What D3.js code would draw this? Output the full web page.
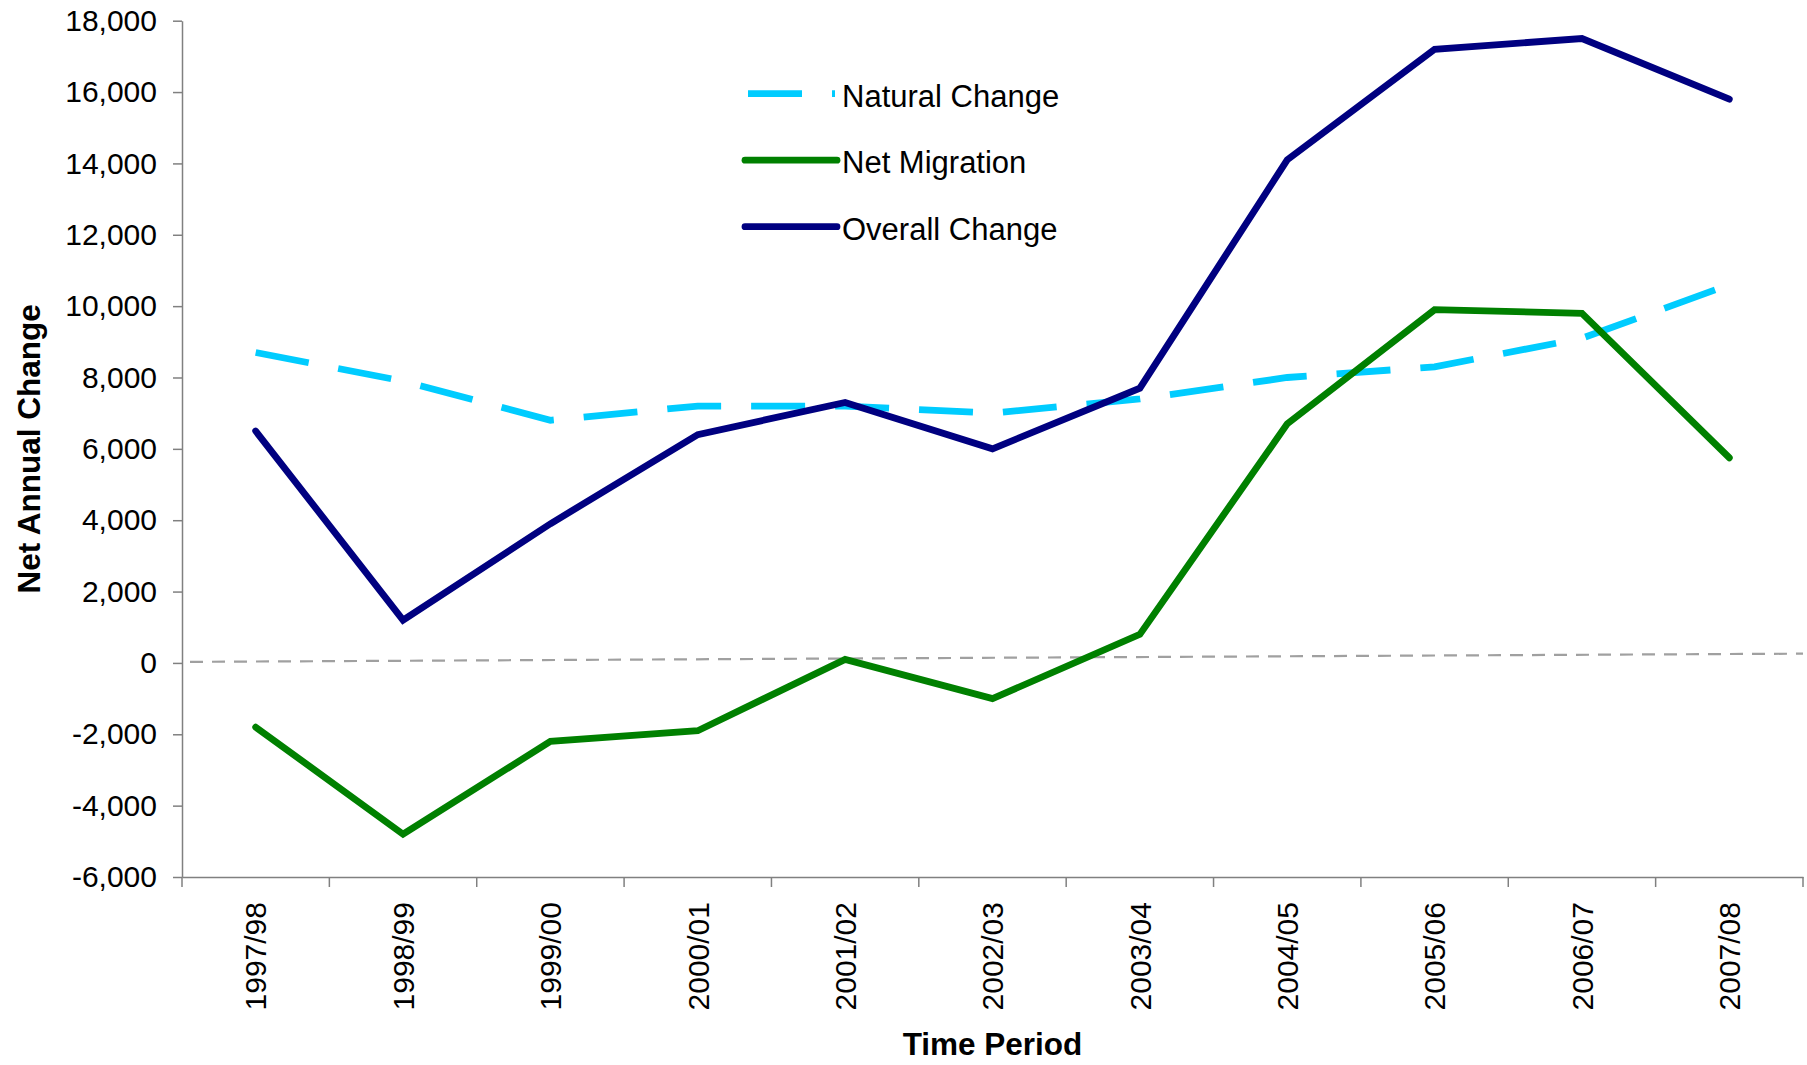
<!DOCTYPE html>
<html>
<head>
<meta charset="utf-8">
<script src="https://cdn.jsdelivr.net/npm/d3@7"></script>
<style>
  html, body { margin: 0; padding: 0; background: #fff; }
  svg text { font-family: "Liberation Sans", Arial, sans-serif; fill: #000; }
</style>
</head>
<body>
<svg id="chart" width="1807" height="1065"></svg>
<script>
const categories = ["1997/98","1998/99","1999/00","2000/01","2001/02","2002/03","2003/04","2004/05","2005/06","2006/07","2007/08"];
const naturalChange = [8700, 7900, 6800, 7200, 7200, 7000, 7400, 8000, 8300, 9100, 10600];
const netMigration = [-1800, -4800, -2200, -1900, 100, -1000, 800, 6700, 9900, 9800, 5750];
const overallChange = [6500, 1200, 3900, 6400, 7300, 6000, 7700, 14100, 17200, 17500, 15800];
const yTicks = [-6000, -4000, -2000, 0, 2000, 4000, 6000, 8000, 10000, 12000, 14000, 16000, 18000];
const refLineValues = [30, 260]; // faint dashed reference line, value at left and right edge
const seriesNames = ["Natural Change", "Net Migration", "Overall Change"];

const svg = d3.select("#chart");
const margin = { left: 182, right: 1803, top: 20.7, bottom: 877 };

const x = d3.scaleBand().domain(categories).range([margin.left, margin.right]).padding(0);
const y = d3.scaleLinear().domain([-6000, 18000]).range([margin.bottom, margin.top]);
const cx = c => x(c) + x.bandwidth() / 2;

const axisColor = "#808080";
const fmt = d3.format(",");
const tickFmt = d => fmt(d).replace("\u2212", "-");

// reference dashed line
const xr = d3.scaleLinear().domain([0, 1]).range([margin.left + 8, margin.right]);
svg.append("path")
  .datum(refLineValues)
  .attr("d", d3.line().x((d, i) => xr(i)).y(d => y(d)))
  .attr("fill", "none")
  .attr("stroke", "#a0a0a0")
  .attr("stroke-width", 2.2)
  .attr("stroke-dasharray", "13,9");

// Y axis
const yAxis = svg.append("g")
  .attr("transform", `translate(${margin.left},0)`)
  .call(d3.axisLeft(y).tickValues(yTicks).tickFormat(tickFmt).tickSize(9).tickPadding(16).tickSizeOuter(0));
yAxis.select(".domain").attr("stroke", axisColor).attr("stroke-width", 1.5);
yAxis.selectAll(".tick line").attr("stroke", axisColor).attr("stroke-width", 1.5);
yAxis.selectAll(".tick text").attr("font-size", 30).attr("font-family", "Liberation Sans, Arial, sans-serif").attr("fill", "#000");

// X axis
const xAxis = svg.append("g")
  .attr("transform", `translate(0,${margin.bottom})`)
  .call(d3.axisBottom(x).tickSize(0).tickSizeOuter(0).tickFormat(""));
xAxis.select(".domain").attr("stroke", axisColor).attr("stroke-width", 1.5);
const boundaries = categories.map(c => x(c)).concat([x.range()[1]]);
xAxis.selectAll(".bnd").data(boundaries).enter().append("line")
  .attr("class", "bnd")
  .attr("x1", d => d).attr("x2", d => d)
  .attr("y1", 0).attr("y2", 10)
  .attr("stroke", axisColor).attr("stroke-width", 1.5);
svg.append("g").selectAll("text").data(categories).enter().append("text")
  .attr("transform", d => `translate(${cx(d)},${margin.bottom + 25}) rotate(-90)`)
  .attr("text-anchor", "end")
  .attr("dy", "0.36em")
  .attr("font-size", 30)
  .text(d => d);

// axis titles
svg.append("text")
  .attr("x", (margin.left + margin.right) / 2)
  .attr("y", 1055)
  .attr("text-anchor", "middle")
  .attr("font-size", 31.5)
  .attr("font-weight", "bold")
  .text("Time Period");
svg.append("text")
  .attr("transform", `translate(40,${(margin.top + margin.bottom) / 2}) rotate(-90)`)
  .attr("text-anchor", "middle")
  .attr("font-size", 31.5)
  .attr("font-weight", "bold")
  .text("Net Annual Change");

// series
const series = [
  { name: seriesNames[0], values: naturalChange, color: "#00CCFF", dash: "54,30", cap: "butt" },
  { name: seriesNames[1], values: netMigration, color: "#008000", dash: null, cap: "round" },
  { name: seriesNames[2], values: overallChange, color: "#000080", dash: null, cap: "round" }
];
const line = d3.line().x((d, i) => cx(categories[i])).y(d => y(d));
series.forEach(s => {
  svg.append("path")
    .datum(s.values)
    .attr("d", line)
    .attr("fill", "none")
    .attr("stroke", s.color)
    .attr("stroke-width", 6.8)
    .attr("stroke-linecap", s.cap)
    .attr("stroke-linejoin", "miter")
    .attr("stroke-dasharray", s.dash);
});

// legend
const legend = svg.append("g");
series.forEach((s, i) => {
  const ly = 93.7 + i * 66.5;
  legend.append("line")
    .attr("x1", s.dash ? 748 : 745).attr("x2", s.dash ? 835 : 837)
    .attr("y1", ly).attr("y2", ly)
    .attr("stroke", s.color)
    .attr("stroke-width", 6.8)
    .attr("stroke-linecap", s.cap)
    .attr("stroke-dasharray", s.dash);
  legend.append("text")
    .attr("x", 842)
    .attr("y", ly + 13)
    .attr("font-size", 31)
    .text(s.name);
});
</script>
</body>
</html>
